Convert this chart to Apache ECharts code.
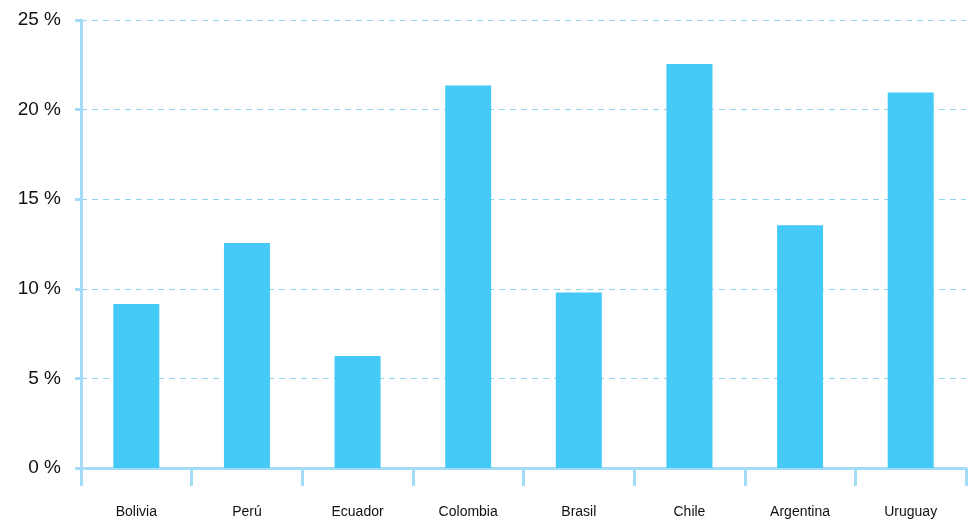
<!DOCTYPE html>
<html>
<head>
<meta charset="utf-8">
<script src="https://cdn.jsdelivr.net/npm/echarts@6/dist/echarts.min.js"></script>
<style>
    html, body { margin: 0; padding: 0; background: #fff; }
    #chart { width: 968px; height: 521px; }
</style>
</head>
<body>
<div id="chart"></div>
<script>
// categories and values (percent)
const countries = ['Bolivia', 'Perú', 'Ecuador', 'Colombia', 'Brasil', 'Chile', 'Argentina', 'Uruguay'];
const shares = [9.15, 12.55, 6.25, 21.35, 9.8, 22.55, 13.55, 20.95];
const yTicks = [0, 5, 10, 15, 20, 25];

let chart = echarts.init(document.getElementById('chart'));
const axisBlue = '#a3dcf7';
const option = {
    animation: false,
    textStyle: { fontFamily: 'Liberation Sans, Arial, sans-serif' },
    grid: {
        top: 20,
        left: 81,
        right: 2,
        bottom: 53
    },
    xAxis: {
        type: 'category',
        data: countries,
        axisLine: { lineStyle: { color: axisBlue, width: 3 } },
        axisTick: { show: true, alignWithLabel: false, length: 18, lineStyle: { color: axisBlue, width: 3 } },
        axisLabel: { color: '#111', fontSize: 14, margin: 37 }
    },
    yAxis: {
        type: 'value',
        min: yTicks[0],
        max: yTicks[yTicks.length - 1],
        interval: 5,
        axisLine: { show: true, lineStyle: { color: axisBlue, width: 3 } },
        axisTick: { show: true, length: 6, lineStyle: { color: axisBlue, width: 3 } },
        axisLabel: { color: '#111', fontSize: 19, margin: 20, formatter: '{value} %' },
        splitLine: { lineStyle: { color: '#92d4f0', type: [6, 5], width: 1 } }
    },
    series: [
        {
            type: 'bar',
            data: shares,
            barWidth: 46,
            itemStyle: { color: '#45c9f7' }
        }
    ]
};
chart.setOption(option);
</script>
</body>
</html>
